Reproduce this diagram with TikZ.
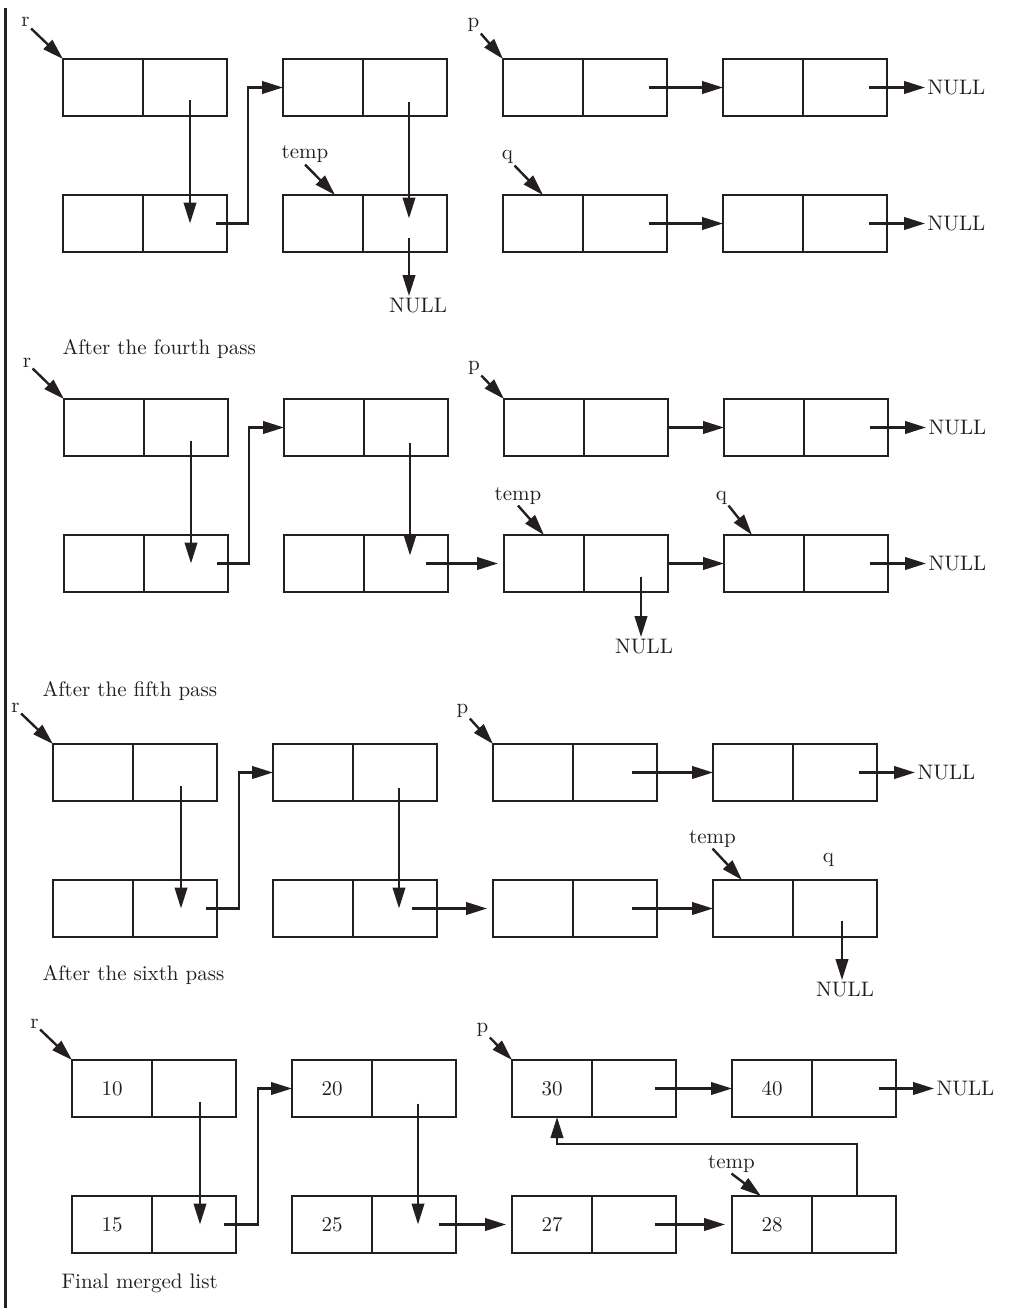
\documentclass[tikz,border=0pt]{standalone}
\usepackage{tikz}
\usetikzlibrary{positioning,arrows.meta}
\definecolor{Ink}{HTML}{231F20}
% one list element = data cell + pointer cell (name, placement, value)
\newcommand{\listelem}[3]{%
  \node[dcell,#2] (#1) {\scalebox{2.1}{#3}};
  \node[pcell,right=0pt of #1] (#1p) {};}

\begin{document}
\begin{tikzpicture}[
  x=1pt,y=1pt,
  font=\fontsize{10}{12}\selectfont,
  dcell/.style={draw=Ink,line width=2.9pt,minimum width=80pt,minimum height=57pt,
                inner sep=0pt,outer sep=0pt,text=Ink},
  pcell/.style={dcell,minimum width=84pt},
  txt/.style={text=Ink,inner sep=1pt,scale=2.1},
  lbl/.style={text=Ink,inner sep=0.5pt,scale=2.1,anchor=base},
  ar/.style={-{Triangle[length=21pt,width=12.5pt]},draw=Ink,line width=2.4pt},
]
\useasboundingbox (0,0) rectangle (1011,-1308);
\draw[Ink,line width=3pt] (5,-8) -- (5,-1308);

% after the fourth pass
\listelem{A11}{anchor=north west,at={(63,-59)}}{}
\listelem{A12}{right=56pt of A11p}{}
\listelem{A13}{right=56pt of A12p}{}
\listelem{A14}{right=56pt of A13p}{}
\listelem{A21}{below=79pt of A11}{}
\listelem{A22}{below=79pt of A12}{}
\listelem{A23}{below=79pt of A13}{}
\listelem{A24}{below=79pt of A14}{}
\node[lbl] (rA) at (25.5,-27) {r};
\node[lbl] (pA) at (473.5,-28) {p};
\node[lbl] (tA) at (305,-159) {temp};
\node[lbl] (qA) at (507.5,-160) {q};
\node[txt,right=38pt of A14p] (nA1) {NULL};
\node[txt,right=38pt of A24p] (nA2) {NULL};
\node[txt] (nA3) at (418,-306) {NULL};
\node[txt,anchor=base west] (capA) at (60,-354) {After the fourth pass};
\draw[ar] (rA.south east) -- (A11.north west);
\draw[ar] (pA.south east) -- (A13.north west);
\draw[ar] (tA.south) -- ([xshift=12pt]A22.north);
\draw[ar] (qA.south east) -- (A23.north);
\draw[ar] ([shift={(5,-13)}]A11p.center) -- ([xshift=5pt]A21p.center);
\draw[ar] ([xshift=-11pt]A21p.east) -- ++(32,0) |- (A12.west);
\draw[ar] ([shift={(4,-15)}]A12p.center) -- ([shift={(4,5)}]A22p.center);
\draw[ar] ([shift={(4,-14)}]A22p.center) -- ([xshift=4pt]A22p.center |- nA3.north);
\draw[ar] ([xshift=-18pt]A13p.east) -- (A14.west);
\draw[ar] ([xshift=-18pt]A14p.east) -- (nA1.west);
\draw[ar] ([xshift=-18pt]A23p.east) -- (A24.west);
\draw[ar] ([xshift=-18pt]A24p.east) -- (nA2.west);

% after the fifth pass
\listelem{B11}{anchor=north west,at={(64,-399)}}{}
\listelem{B12}{right=56pt of B11p}{}
\listelem{B13}{right=56pt of B12p}{}
\listelem{B14}{right=56pt of B13p}{}
\listelem{B21}{below=79pt of B11}{}
\listelem{B22}{below=79pt of B12}{}
\listelem{B23}{below=79pt of B13}{}
\listelem{B24}{below=79pt of B14}{}
\node[lbl] (rB) at (27,-367) {r};
\node[lbl] (pB) at (474,-370) {p};
\node[lbl] (tB) at (518,-500) {temp};
\node[lbl] (qB) at (721.5,-500) {q};
\node[txt,right=38pt of B14p] (nB1) {NULL};
\node[txt,right=38pt of B24p] (nB2) {NULL};
\node[txt] (nB3) at (644,-647) {NULL};
\node[txt,anchor=base west] (capB) at (40,-696) {After the fifth pass};
\draw[ar] (rB.south east) -- (B11.north west);
\draw[ar] (pB.south east) -- (B13.north west);
\draw[ar] (tB.south) -- (B23.north);
\draw[ar] (qB.south east) -- ([xshift=-12pt]B24.north);
\draw[ar] ([shift={(5,-13)}]B11p.center) -- ([xshift=5pt]B21p.center);
\draw[ar] ([xshift=-11pt]B21p.east) -- ++(32,0) |- (B12.west);
\draw[ar] ([shift={(4,-15)}]B12p.center) -- ([shift={(4,8)}]B22p.center);
\draw[ar,shorten >=6pt] ([xshift=-22pt]B22p.east) -- (B23.west);
\draw[ar] ([shift={(15,-13)}]B23p.center) -- ([xshift=15pt]B23p.center |- nB3.north);
\draw[ar] (B13p.east) -- (B14.west);
\draw[ar] ([xshift=-18pt]B14p.east) -- (nB1.west);
\draw[ar] (B23p.east) -- (B24.west);
\draw[ar] ([xshift=-18pt]B24p.east) -- (nB2.west);

% after the sixth pass
\listelem{C11}{anchor=north west,at={(53,-744)}}{}
\listelem{C12}{right=56pt of C11p}{}
\listelem{C13}{right=56pt of C12p}{}
\listelem{C14}{right=56pt of C13p}{}
\listelem{C21}{below=79pt of C11}{}
\listelem{C22}{below=79pt of C12}{}
\listelem{C23}{below=79pt of C13}{}
\listelem{C24}{below=79pt of C14}{}
\node[lbl] (rC) at (15.5,-712) {r};
\node[lbl] (pC) at (462.5,-713) {p};
\node[lbl] (tC) at (712.5,-843) {temp};
\node[lbl] (qC) at (828.5,-862) {q};
\node[txt,right=38pt of C14p] (nC1) {NULL};
\node[txt] (nC2) at (845,-990) {NULL};
\node[txt,anchor=base west] (capC) at (40,-980) {After the sixth pass};
\draw[ar] (rC.south east) -- (C11.north west);
\draw[ar] (pC.south east) -- (C13.north west);
\draw[ar] (tC.south) -- ([xshift=-11pt]C24.north);
\draw[ar] ([shift={(6,-13)}]C11p.center) -- ([xshift=6pt]C21p.center);
\draw[ar] ([xshift=-11pt]C21p.east) -- ++(33,0) |- (C12.west);
\draw[ar] ([shift={(4,-15)}]C12p.center) -- ([xshift=4pt]C22p.center);
\draw[ar,shorten >=6pt] ([xshift=-25pt]C22p.east) -- (C23.west);
\draw[ar] ([xshift=-25pt]C13p.east) -- (C14.west);
\draw[ar] ([xshift=-18pt]C14p.east) -- (nC1.west);
\draw[ar] ([xshift=-25pt]C23p.east) -- (C24.west);
\draw[ar] ([shift={(7,-12)}]C24p.center) -- ([xshift=7pt]C24p.center |- nC2.north);

% final merged list
\listelem{D11}{anchor=north west,at={(72,-1060)}}{10}
\listelem{D12}{right=56pt of D11p}{20}
\listelem{D13}{right=56pt of D12p}{30}
\listelem{D14}{right=56pt of D13p}{40}
\listelem{D21}{below=79pt of D11}{15}
\listelem{D22}{below=79pt of D12}{25}
\listelem{D23}{below=79pt of D13}{27}
\listelem{D24}{below=79pt of D14}{28}
\node[lbl] (rD) at (34.5,-1028) {r};
\node[lbl] (pD) at (482.5,-1032) {p};
\node[lbl] (tD) at (731.5,-1168) {temp};
\node[txt,right=38pt of D14p] (nD1) {NULL};
\node[txt,anchor=base west] (capD) at (59,-1288) {Final merged list};
\draw[ar] (rD.south east) -- (D11.north west);
\draw[ar] (pD.south east) -- (D13.north west);
\draw[ar] (tD.south) -- ([xshift=-11pt]D24.north);
\draw[ar] ([shift={(6,-13)}]D11p.center) -- ([xshift=6pt]D21p.center);
\draw[ar] ([xshift=-12pt]D21p.east) -- ++(34,0) |- (D12.west);
\draw[ar] ([shift={(4,-15)}]D12p.center) -- ([xshift=4pt]D22p.center);
\draw[ar,shorten >=6pt] ([xshift=-17pt]D22p.east) -- (D23.west);
\draw[ar] ([xshift=-21pt]D13p.east) -- (D14.west);
\draw[ar] ([xshift=-17pt]D14p.east) -- (nD1.west);
\draw[ar,shorten >=7pt] ([xshift=-21pt]D23p.east) -- (D24.west);
\draw[ar] ([xshift=3pt]D24p.north) -- ++(0,52) -| ([xshift=5pt]D13.south);
\end{tikzpicture}
\end{document}
